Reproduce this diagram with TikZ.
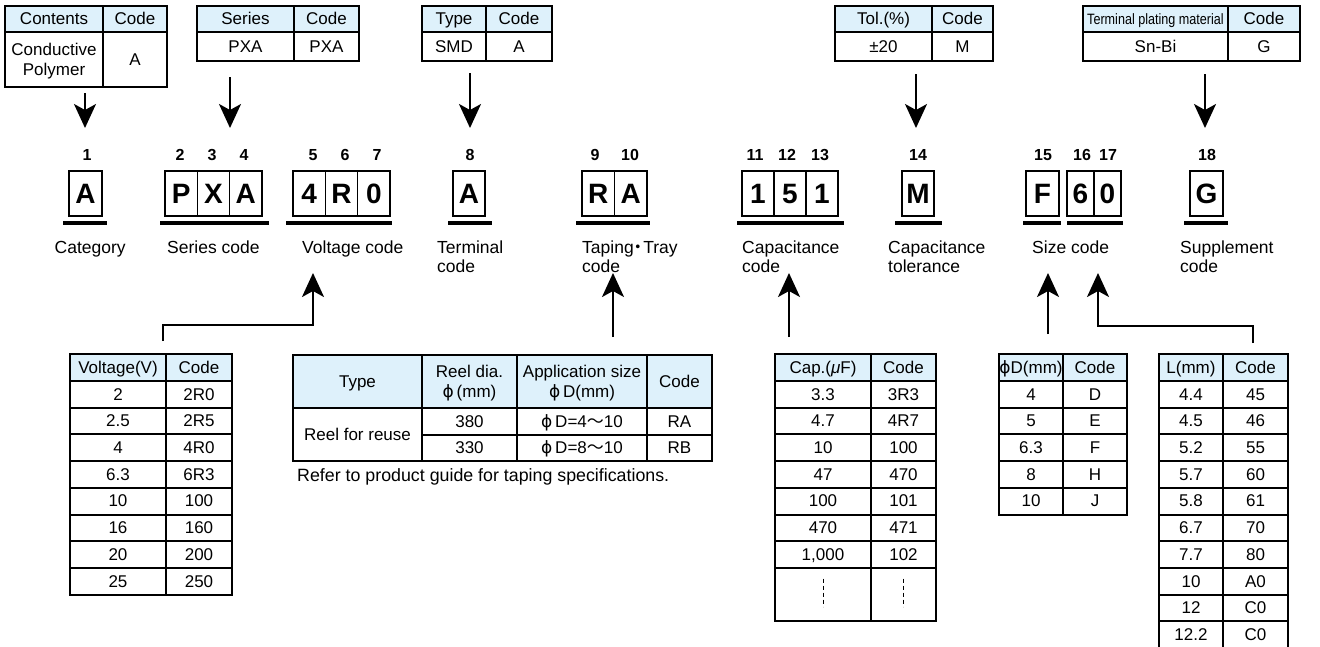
\documentclass[tikz,border=0pt]{standalone}
\usepackage{fontspec}
\setmainfont{Liberation Sans}
\newfontfamily\cjk{Noto Sans CJK JP}
\newfontfamily\dvs{DejaVu Sans}
\usepackage{graphicx}
\usetikzlibrary{arrows.meta,calc}
\definecolor{hdr}{RGB}{222,241,251}
\newcommand{\myphi}{{\dvs ϕ}}
\newcommand{\mkcell}[7]{\node[#2,minimum width={(#5-#3)*1pt},minimum height={(#6-#4)*1pt}] (#1) at ({(#3+#5)/2},{(#4+#6)/2}) {#7};}
\tikzset{
  tcell/.style={draw, line width=2pt, inner sep=0pt, align=center, text height=12.2pt, text depth=0.6pt, font=\fontsize{17}{19.5}\selectfont},
  hcell/.style={tcell, fill=hdr},
  two/.style={text height=31.7pt},
  cbox/.style={draw, line width=1.2pt, inner sep=0pt, minimum height=45pt, font=\fontsize{28}{30}\selectfont\bfseries},
  ubar/.style={line width=4pt},
  num/.style={inner sep=0pt, font=\fontsize{16}{18}\selectfont\bfseries},
  lab/.style={anchor=base west, align=left, inner sep=0pt, font=\fontsize{17.5}{19.5}\selectfont},
  arr/.style={line width=2pt, -{Stealth[length=24pt,width=22pt,inset=6pt]}},
}
\begin{document}
\begin{tikzpicture}[x=1pt,y=-1pt]
\useasboundingbox (0,0) rectangle (1320,646);

% ---------- top tables ----------
\mkcell{ta1}{hcell}{5}{6}{103}{32}{Contents}
\mkcell{ta2}{hcell}{103}{6}{167}{32}{Code}
\mkcell{ta3}{tcell,two}{5}{32}{103}{87}{Conductive\\Polymer}
\mkcell{ta4}{tcell}{103}{32}{167}{87}{A}

\mkcell{tb1}{hcell}{197}{6}{294}{32}{Series}
\mkcell{tb2}{hcell}{294}{6}{359}{32}{Code}
\mkcell{tb3}{tcell}{197}{32}{294}{61}{PXA}
\mkcell{tb4}{tcell}{294}{32}{359}{61}{PXA}

\mkcell{tc1}{hcell}{422}{6}{486}{32}{Type}
\mkcell{tc2}{hcell}{486}{6}{552}{32}{Code}
\mkcell{tc3}{tcell}{422}{32}{486}{61}{SMD}
\mkcell{tc4}{tcell}{486}{32}{552}{61}{A}

\mkcell{td1}{hcell}{835}{6}{932}{32}{Tol.(\%)}
\mkcell{td2}{hcell}{932}{6}{993}{32}{Code}
\mkcell{td3}{tcell}{835}{32}{932}{61}{±20}
\mkcell{td4}{tcell}{932}{32}{993}{61}{M}

\mkcell{te1}{hcell}{1083}{6}{1228}{32}{{\fontsize{15}{17}\selectfont\scalebox{0.84}[1]{Terminal plating material}}}
\mkcell{te2}{hcell}{1228}{6}{1300}{32}{Code}
\mkcell{te3}{tcell}{1083}{32}{1228}{61}{Sn-Bi}
\mkcell{te4}{tcell}{1228}{32}{1300}{61}{G}

% ---------- position numbers ----------
\node[num] (n1) at (87,155) {1};
\node[num] (n2) at (180,155) {2};
\node[num] (n3) at (212,155) {3};
\node[num] (n4) at (244,155) {4};
\node[num] (n5) at (313,155) {5};
\node[num] (n6) at (345,155) {6};
\node[num] (n7) at (377,155) {7};
\node[num] (n8) at (470,155) {8};
\node[num] (n9) at (595,155) {9};
\node[num] (n10) at (630,155) {10};
\node[num] (n11) at (755,155) {11};
\node[num] (n12) at (787,155) {12};
\node[num] (n13) at (820,155) {13};
\node[num] (n14) at (918,155) {14};
\node[num] (n15) at (1043,155) {15};
\node[num] (n16) at (1082,155) {16};
\node[num] (n17) at (1108,155) {17};
\node[num] (n18) at (1207,155) {18};

% ---------- code boxes ----------
\node[cbox, minimum width=33pt] (c1) at (85.5,193.5) {A};
\node[cbox, minimum width=32.3pt] (c2) at (181.2,193.5) {P};
\node[cbox, minimum width=32.3pt] (c3) at (213.5,193.5) {X};
\node[cbox, minimum width=32.3pt] (c4) at (245.8,193.5) {A};
\node[cbox, minimum width=32.3pt] (c5) at (309.2,193.5) {4};
\node[cbox, minimum width=32.3pt] (c6) at (341.5,193.5) {R};
\node[cbox, minimum width=32.3pt] (c7) at (373.8,193.5) {0};
\node[cbox, minimum width=32pt] (c8) at (469,193.5) {A};
\node[cbox, minimum width=32.5pt] (c9) at (598.2,193.5) {R};
\node[cbox, minimum width=32.5pt] (c10) at (630.8,193.5) {A};
\node[cbox, minimum width=32pt] (c11) at (758,193.5) {1};
\node[cbox, minimum width=32pt] (c12) at (790,193.5) {5};
\node[cbox, minimum width=32pt] (c13) at (822,193.5) {1};
\node[cbox, minimum width=32pt] (c14) at (918,193.5) {M};
\node[cbox, minimum width=33pt] (c15) at (1042.5,193.5) {F};
\node[cbox, minimum width=27pt] (c16) at (1080.5,193.5) {6};
\node[cbox, minimum width=27pt] (c17) at (1107.5,193.5) {0};
\node[cbox, minimum width=33pt] (c18) at (1206.5,193.5) {G};

% underline bars
\draw[ubar] (63,222.5) -- (107,222.5);
\draw[ubar] (160,222.5) -- (269,222.5);
\draw[ubar] (286,222.5) -- (392,222.5);
\draw[ubar] (448,222.5) -- (492,222.5);
\draw[ubar] (576,222.5) -- (650,222.5);
\draw[ubar] (737,222.5) -- (844,222.5);
\draw[ubar] (895,222.5) -- (942,222.5);
\draw[ubar] (1023,222.5) -- (1061,222.5);
\draw[ubar] (1067,222.5) -- (1123,222.5);
\draw[ubar] (1184,222.5) -- (1228,222.5);

% ---------- labels ----------
\node[lab] (l1) at (54.5,253) {Category};
\node[lab] (l2) at (167,253) {Series code};
\node[lab] (l3) at (302,253) {Voltage code};
\node[lab] (l4) at (437,272.5) {Terminal\\code};
\node[lab] (l5) at (582,272.5) {Taping\kern-4pt{\cjk ・}\kern-4pt Tray\\code};
\node[lab] (l6) at (742,272.5) {Capacitance\\code};
\node[lab] (l7) at (888,272.5) {Capacitance\\tolerance};
\node[lab] (l8) at (1032,253) {Size code};
\node[lab] (l9) at (1180,272.5) {Supplement\\code};

% ---------- down arrows ----------
\coordinate (d1) at (85,128);
\coordinate (d2) at (230,128);
\coordinate (d3) at (470,128);
\coordinate (d4) at (916,128);
\coordinate (d5) at (1205,128);
\draw[arr, shorten <=5pt] (ta3.south -| d1) -- (d1);
\draw[arr, shorten <=15pt] (tb3.south -| d2) -- (d2);
\draw[arr, shorten <=11pt] (tc3.south -| d3) -- (d3);
\draw[arr, shorten <=12pt] (td3.south -| d4) -- (d4);
\draw[arr, shorten <=12pt] (te3.south -| d5) -- (d5);

% ---------- voltage table ----------
\mkcell{vh1}{hcell}{70}{354}{166}{381}{Voltage(V)}
\mkcell{vh2}{hcell}{166}{354}{232}{381}{Code}
\foreach \a/\b [count=\i] in {2/2R0,2.5/2R5,4/4R0,6.3/6R3,10/100,16/160,20/200,25/250}{
  \pgfmathsetmacro\ya{381+26.7*(\i-1)}
  \pgfmathsetmacro\yb{\ya+26.7}
  \mkcell{v\i a}{tcell}{70}{\ya}{166}{\yb}{\a}
  \mkcell{v\i b}{tcell}{166}{\ya}{232}{\yb}{\b}
}

% ---------- reel table ----------
\mkcell{r1}{hcell}{293}{355}{422}{408}{Type}
\mkcell{r2}{hcell,two}{422}{355}{517}{408}{Reel dia.\\\myphi\,(mm)}
\mkcell{r3}{hcell,two}{517}{355}{647}{408}{Application size\\\myphi\,D(mm)}
\mkcell{r4}{hcell}{647}{355}{712}{408}{Code}
\mkcell{r5}{tcell}{293}{408}{422}{461}{Reel for reuse}
\mkcell{r6}{tcell}{422}{408}{517}{435}{380}
\mkcell{r7}{tcell}{517}{408}{647}{435}{\myphi\,D=4{\cjk 〜}10}
\mkcell{r8}{tcell}{647}{408}{712}{435}{RA}
\mkcell{r9}{tcell}{422}{435}{517}{461}{330}
\mkcell{r10}{tcell}{517}{435}{647}{461}{\myphi\,D=8{\cjk 〜}10}
\mkcell{r11}{tcell}{647}{435}{712}{461}{RB}
\node[anchor=base west, inner sep=0pt, font=\fontsize{17.8}{20}\selectfont] (note) at (297,481) {Refer to product guide for taping specifications.};

% ---------- capacitance table ----------
\mkcell{ch1}{hcell}{775}{354}{871}{381}{Cap.(\textit{μ}F)}
\mkcell{ch2}{hcell}{871}{354}{936}{381}{Code}
\foreach \a/\b [count=\i] in {3.3/3R3,4.7/4R7,10/100,47/470,100/101,470/471,{1,000}/102}{
  \pgfmathsetmacro\ya{381+26.7*(\i-1)}
  \pgfmathsetmacro\yb{\ya+26.7}
  \mkcell{cp\i a}{tcell}{775}{\ya}{871}{\yb}{\a}
  \mkcell{cp\i b}{tcell}{871}{\ya}{936}{\yb}{\b}
}
\mkcell{cp8a}{tcell}{775}{567.9}{871}{621.3}{}
\mkcell{cp8b}{tcell}{871}{567.9}{936}{621.3}{}
\draw[line width=1pt, dash pattern=on 4pt off 3pt] (cp8a.center) ++(0,-16) -- ++(0,28);
\draw[line width=1pt, dash pattern=on 4pt off 3pt] (cp8b.center) ++(0,-16) -- ++(0,28);

% ---------- diameter table ----------
\mkcell{dh1}{hcell}{999}{354}{1063}{381}{\myphi D(mm)}
\mkcell{dh2}{hcell}{1063}{354}{1127}{381}{Code}
\foreach \a/\b [count=\i] in {4/D,5/E,6.3/F,8/H,10/J}{
  \pgfmathsetmacro\ya{381+26.7*(\i-1)}
  \pgfmathsetmacro\yb{\ya+26.7}
  \mkcell{dd\i a}{tcell}{999}{\ya}{1063}{\yb}{\a}
  \mkcell{dd\i b}{tcell}{1063}{\ya}{1127}{\yb}{\b}
}

% ---------- length table ----------
\mkcell{lh1}{hcell}{1159}{354}{1223}{381}{L(mm)}
\mkcell{lh2}{hcell}{1223}{354}{1288}{381}{Code}
\foreach \a/\b [count=\i] in {4.4/45,4.5/46,5.2/55,5.7/60,5.8/61,6.7/70,7.7/80,10/A0,12/C0,12.2/C0}{
  \pgfmathsetmacro\ya{381+26.7*(\i-1)}
  \pgfmathsetmacro\yb{\ya+26.7}
  \mkcell{ll\i a}{tcell}{1159}{\ya}{1223}{\yb}{\a}
  \mkcell{ll\i b}{tcell}{1223}{\ya}{1288}{\yb}{\b}
}

% ---------- up arrows ----------
\coordinate (u1) at (313,273);
\coordinate (u2) at (613,273);
\coordinate (u3) at (789,273);
\coordinate (u4) at (1048,273);
\coordinate (u5) at (1098,273);
\coordinate (vb) at (163,341);
\coordinate (vk) at (313,325);
\coordinate (sb) at (1253,343);
\coordinate (sk) at (1098,326);
\draw[arr] (vb) |- (vk) -- (u1);
\draw[arr, shorten <=17pt] (r3.north -| u2) -- (u2);
\draw[arr, shorten <=16pt] (ch1.north -| u3) -- (u3);
\draw[arr, shorten <=19pt] (dh1.north -| u4) -- (u4);
\draw[arr] (sb) |- (sk) -- (u5);
\end{tikzpicture}
\end{document}
